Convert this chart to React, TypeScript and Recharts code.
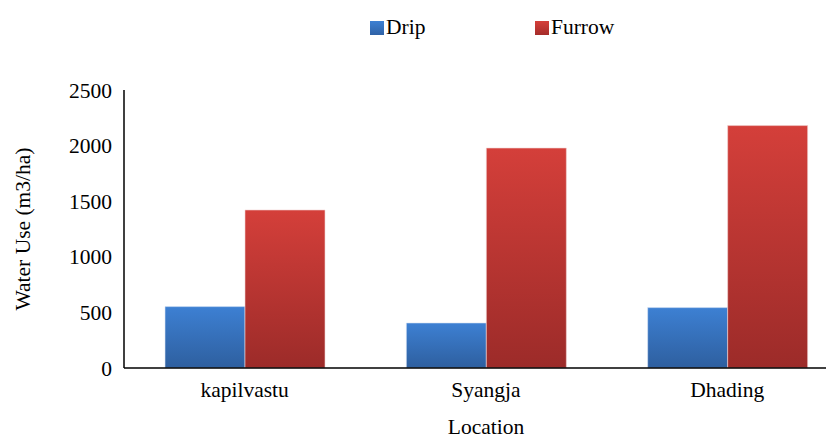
import React from "react";
import {
  BarChart,
  Bar,
  XAxis,
  YAxis,
  Legend,
} from "recharts";

// 지역별 물 사용량 (m3/ha)
const locations = ["kapilvastu", "Syangja", "Dhading"];
const dripValues = [552, 405, 543];
const furrowValues = [1421, 1978, 2180];
const yTicks = [0, 500, 1000, 1500, 2000, 2500];

const data = locations.map((loc, i) => ({
  location: loc,
  drip: dripValues[i],
  furrow: furrowValues[i],
}));

const FONT = "'Liberation Serif', 'Times New Roman', serif";
const FS = 21.5;

const CustomLegend = () => (
  <div style={{ position: "relative", height: 40, fontFamily: FONT, fontSize: FS, color: "#000" }}>
    <div style={{ position: "absolute", left: 370, top: 15, display: "flex", alignItems: "center" }}>
      <span style={{ width: 14, height: 14, background: "linear-gradient(#3d80d3, #2f62a6)", marginRight: 2 }} />
      <span>Drip</span>
    </div>
    <div style={{ position: "absolute", left: 535, top: 15, display: "flex", alignItems: "center" }}>
      <span style={{ width: 14, height: 14, background: "linear-gradient(#d53f3a, #a52c2a)", marginRight: 2 }} />
      <span>Furrow</span>
    </div>
  </div>
);

export default function App() {
  return (
    <div style={{ margin: "-8px 0 0 -8px", width: 834, height: 439, overflow: "hidden", background: "#fff" }}>
      <BarChart
        width={860}
        height={439}
        data={data}
        margin={{ top: 50, right: 12, left: 0, bottom: 0 }}
        barCategoryGap={40}
        barGap={0}
      >
        <defs>
          <linearGradient id="gDrip" x1="0" y1="0" x2="0" y2="1">
            <stop offset="0%" stopColor="#3d80d3" />
            <stop offset="100%" stopColor="#2e5f9f" />
          </linearGradient>
          <linearGradient id="gFurrow" x1="0" y1="0" x2="0" y2="1">
            <stop offset="0%" stopColor="#d43f3a" />
            <stop offset="100%" stopColor="#9c2b29" />
          </linearGradient>
        </defs>
        <Legend verticalAlign="top" content={<CustomLegend />} wrapperStyle={{ top: 0, left: 0 }} />
        <XAxis
          dataKey="location"
          height={71}
          tickLine={false}
          tickSize={0}
          tickMargin={14}
          axisLine={{ stroke: "#000", strokeWidth: 1.5 }}
          tick={{ fill: "#000", fontFamily: FONT, fontSize: FS }}
          label={{
            value: "Location",
            position: "insideBottom",
            offset: 5,
            fill: "#000",
            fontFamily: FONT,
            fontSize: FS,
          }}
        />
        <YAxis
          width={124}
          domain={[0, 2500]}
          ticks={yTicks}
          tickLine={false}
          tickSize={0}
          tickMargin={12}
          axisLine={{ stroke: "#000", strokeWidth: 1.5 }}
          tick={{ fill: "#000", fontFamily: FONT, fontSize: FS }}
          label={{
            value: "Water Use (m3/ha)",
            angle: -90,
            position: "center",
            dx: -40,
            fill: "#000",
            fontFamily: FONT,
            fontSize: FS,
          }}
        />
        <Bar
          dataKey="drip"
          name="Drip"
          fill="url(#gDrip)"
          stroke="#dbe6f5"
          strokeWidth={0.6}
          barSize={80}
          isAnimationActive={false}
        />
        <Bar
          dataKey="furrow"
          name="Furrow"
          fill="url(#gFurrow)"
          stroke="#f2d4d3"
          strokeWidth={0.6}
          barSize={80}
          isAnimationActive={false}
        />
      </BarChart>
    </div>
  );
}
